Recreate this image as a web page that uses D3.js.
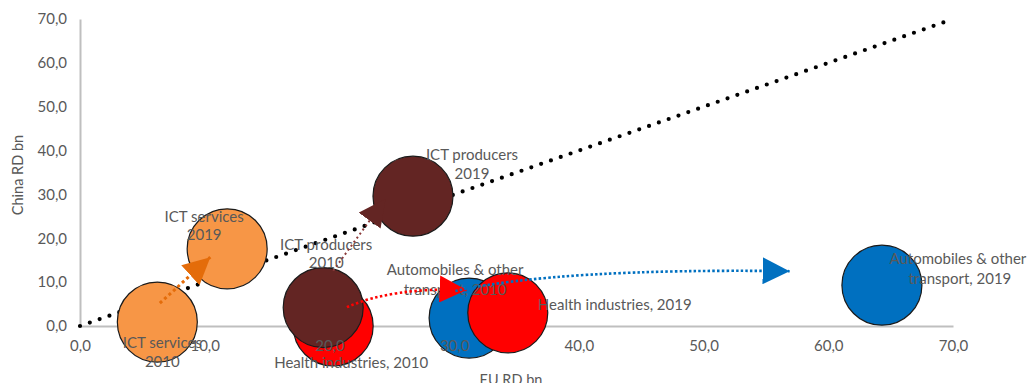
<!DOCTYPE html>
<html>
<head>
<meta charset="utf-8">
<script src="https://cdn.jsdelivr.net/npm/d3@7"></script>
<style>
  html, body { margin: 0; padding: 0; background: #fff; }
  svg { display: block; }
  text { font-family: "Lato", "Open Sans", sans-serif; fill: #595959; }
</style>
</head>
<body>
<svg id="chart" width="1028" height="383"></svg>
<script>
// ---- data ----
const names = [
  ["Automobiles & other", "transport, 2010"],
  ["Automobiles & other", "transport, 2019"],
  ["Health industries, 2010"],
  ["Health industries, 2019"],
  ["ICT producers", "2010"],
  ["ICT producers", "2019"],
  ["ICT services", "2010"],
  ["ICT services", "2019"]
];
const euRD    = [31.2, 64.3, 20.3, 34.3, 19.5, 26.7, 6.2, 11.8];
const chinaRD = [ 1.8,  9.3,  0.0,  3.0,  4.2, 29.6, 0.9, 17.6];
const bubbleSize = [1, 1, 1, 1, 1, 1, 1, 1];
const sector = ["auto", "auto", "health", "health", "ictp", "ictp", "icts", "icts"];
const xTicks = [0, 10, 20, 30, 40, 50, 60, 70];
const yTicks = [0, 10, 20, 30, 40, 50, 60, 70];
const diagonal = [[0, 0], [70, 70]];
// arrows: start, (control), tip in data units
const arrowSector = ["icts", "ictp", "health", "auto"];
const arrowStart  = [[6.4, 5.2], [20.3, 12.6], [21.4, 4.3], [30.1, 8.0]];
const arrowCtrl   = [null, null, [25.1, 8.9], [38.5, 13.2]];
const arrowTip    = [[10.45, 15.7], [24.5, 29.0], [31.0, 8.2], [56.9, 12.5]];

// ---- styles ----
const fillColor = { auto: "#0070C0", health: "#FF0000", ictp: "#632523", icts: "#F79646" };
const arrowColor = { auto: "#0070C0", health: "#FF0000", ictp: "#632523", icts: "#E46C0A" };
const lineColor = { auto: "#0070C0", health: "#FF0000", ictp: "#8B3A3A", icts: "#E46C0A" };
const lineDash = { auto: "2.5,2.2", health: "2.5,2.5", ictp: "2,3", icts: "3,3" };
const lineWidth = { auto: 2.6, health: 2.6, ictp: 2, icts: 3 };
// label offsets (px) relative to bubble centre, one per line
const labelOff = [
  [[-14, -49], [-14, -29]],
  [[76, -27], [78, -7]],
  [[18, 36]],
  [[107, -9]],
  [[3, -64], [3, -46]],
  [[59, -42], [59, -23]],
  [[5, 20], [5, 39]],
  [[-23, -33], [-23, -15]]
];

const svg = d3.select("#chart");
const x = d3.scaleLinear().domain([0, 70]).range([80, 953]);
const y = d3.scaleLinear().domain([0, 70]).range([326, 19]);
const r = d3.scaleSqrt().domain([0, 1]).range([0, 40]);
const fmt = d => d.toFixed(1).replace(".", ",");

const xAxisGen = d3.axisBottom(x).tickValues(xTicks).tickFormat(fmt).tickSize(0).tickPadding(14);
const yAxisGen = d3.axisLeft(y).tickValues(yTicks).tickFormat(fmt).tickSize(0).tickPadding(13);

// axis lines (below bubbles)
const xLine = svg.append("g").attr("transform", `translate(0,${y(0)})`).call(xAxisGen);
const yLine = svg.append("g").attr("transform", `translate(${x(0)},0)`).call(yAxisGen);
[xLine, yLine].forEach(a => {
  a.selectAll(".tick").remove();
  a.select(".domain").attr("stroke", "#BFBFBF").attr("stroke-width", 2);
});

// diagonal
svg.append("path")
  .attr("d", d3.line().x(d => x(d[0])).y(d => y(d[1]))(diagonal))
  .attr("fill", "none").attr("stroke", "#000").attr("stroke-width", 4.2)
  .attr("stroke-linecap", "round").attr("stroke-dasharray", "0,10.4");

// bubbles
const idx = d3.range(euRD.length);
svg.append("g").selectAll("circle").data(idx).join("circle")
  .attr("cx", i => x(euRD[i])).attr("cy", i => y(chinaRD[i]))
  .attr("r", i => r(bubbleSize[i]))
  .attr("fill", i => fillColor[sector[i]])
  .attr("stroke", "#1a1a1a").attr("stroke-width", 1.2);

// tick labels (above bubbles)
const xLab = svg.append("g").attr("transform", `translate(0,${y(0)})`).call(xAxisGen);
const yLab = svg.append("g").attr("transform", `translate(${x(0)},0)`).call(yAxisGen);
[xLab, yLab].forEach(a => {
  a.select(".domain").remove();
  a.selectAll("text").attr("fill", "#595959").style("font-size", "15px").style("font-family", "Lato, sans-serif");
});

// axis titles
svg.append("text").attr("x", 511).attr("y", 385).attr("text-anchor", "middle")
  .style("font-size", "14.5px").text("EU RD bn");
svg.append("text").attr("transform", "translate(23,175) rotate(-90)").attr("text-anchor", "middle")
  .style("font-size", "14.5px").text("China RD bn");

// labels
const lg = svg.append("g");
idx.forEach(i => {
  names[i].forEach((t, k) => {
    lg.append("text")
      .attr("x", x(euRD[i]) + labelOff[i][k][0])
      .attr("y", y(chinaRD[i]) + labelOff[i][k][1])
      .attr("text-anchor", "middle").attr("dominant-baseline", "central")
      .style("font-size", "15px").text(t);
  });
});

// arrow markers
const defs = svg.append("defs");
arrowSector.forEach(s => {
  defs.append("marker").attr("id", "arr-" + s)
    .attr("markerUnits", "userSpaceOnUse").attr("viewBox", "0 0 27 27")
    .attr("refX", 27).attr("refY", 13.5).attr("markerWidth", 27).attr("markerHeight", 27)
    .attr("orient", "auto")
    .append("path").attr("d", "M0,0 L27,13.5 L0,27 Z").attr("fill", arrowColor[s]);
});

// arrows
arrowSector.forEach((s, i) => {
  const p0 = [x(arrowStart[i][0]), y(arrowStart[i][1])];
  const p1 = [x(arrowTip[i][0]), y(arrowTip[i][1])];
  const path = d3.path();
  path.moveTo(p0[0], p0[1]);
  if (arrowCtrl[i]) path.quadraticCurveTo(x(arrowCtrl[i][0]), y(arrowCtrl[i][1]), p1[0], p1[1]);
  else path.lineTo(p1[0], p1[1]);
  svg.append("path").attr("d", path.toString()).attr("fill", "none")
    .attr("stroke", lineColor[s]).attr("stroke-width", lineWidth[s])
    .attr("stroke-dasharray", lineDash[s])
    .attr("marker-end", `url(#arr-${s})`);
});
</script>
</body>
</html>
